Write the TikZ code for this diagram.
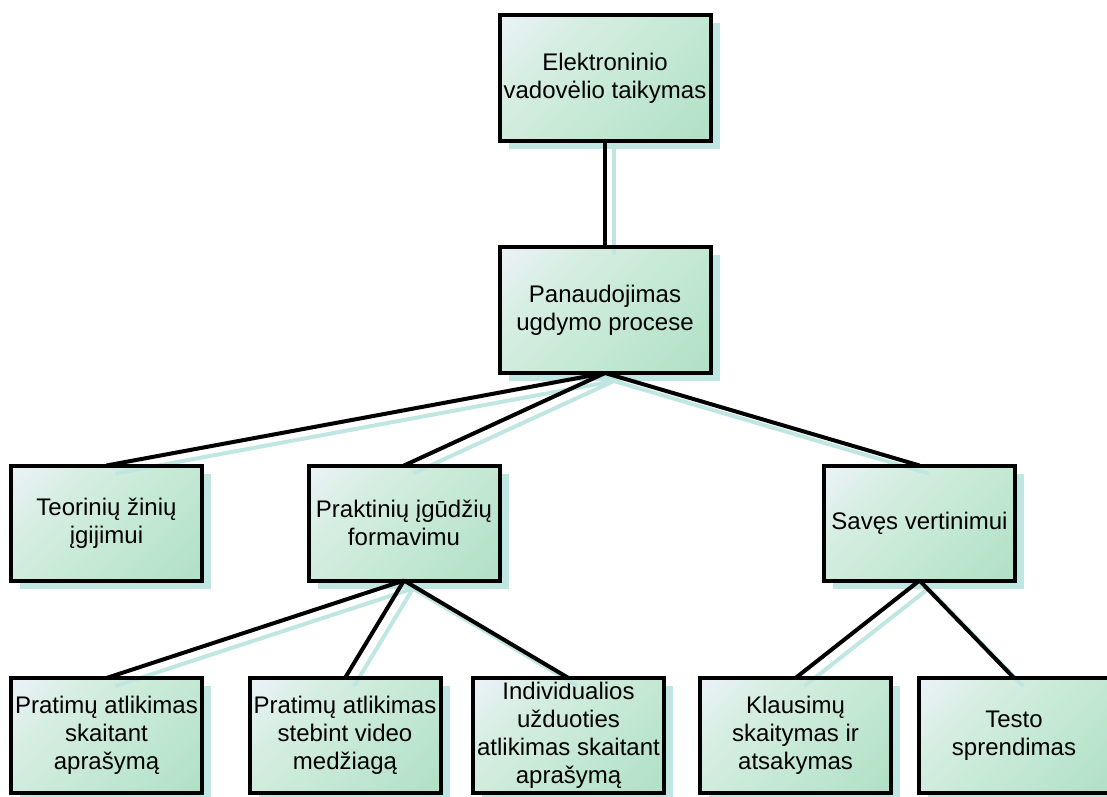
\documentclass[tikz,border=0pt]{standalone}
\usepackage{fontspec}
\setmainfont{Liberation Sans}
\usetikzlibrary{shadows}
\definecolor{boxlight}{RGB}{236,242,248}
\definecolor{boxpale}{RGB}{215,238,227}
\definecolor{boxmid}{RGB}{201,234,215}
\definecolor{boxgreen}{RGB}{178,225,199}
\definecolor{shadowc}{RGB}{192,230,226}
% diagonal box fill: pale corner at the upper left, green towards the lower right
\pgfdeclareverticalshading{boxshade}{100bp}{color(0bp)=(boxgreen); color(18bp)=(boxgreen);
  color(50bp)=(boxmid); color(68bp)=(boxpale); color(85bp)=(boxlight); color(100bp)=(boxlight)}
\begin{document}
\begin{tikzpicture}[x=1pt,y=-1pt,
  box/.style={draw=black, line width=4pt, outer sep=0pt, inner sep=0pt,
    shade, shading=boxshade, shading angle=45, align=center,
    font=\fontsize{24}{28}\selectfont,
    drop shadow={shadow xshift=9pt, shadow yshift=-8pt, fill=shadowc, opacity=1}},
  bigbox/.style={box, minimum width=211pt, minimum height=126pt},
  smallbox/.style={box, minimum width=191pt, minimum height=115pt},
  link/.style={draw=black, line width=4pt},
  linkshadow/.style={draw=shadowc, line width=4pt},
  frame/.style={draw=black, line width=4pt}]
  \useasboundingbox (0,0) rectangle (1107,796);
  \clip (0,0) rectangle (1107,796);

  % boxes
  \node[bigbox] (top) at (605,78) {Elektroninio\\vadovėlio taikymas};
  \node[bigbox] (mid) at (605,310) {Panaudojimas\\ugdymo procese};
  \node[smallbox] (teo) at (106.5,523) {Teorinių žinių\\įgijimui};
  \node[smallbox] (prak) at (404,523) {Praktinių įgūdžių\\formavimu};
  \node[smallbox] (sav) at (919.5,523) {Savęs vertinimui};
  \node[smallbox] (pa) at (106.5,735.5) {Pratimų atlikimas\\skaitant\\aprašymą};
  \node[smallbox] (pb) at (345,735.5) {Pratimų atlikimas\\stebint video\\medžiagą};
  \node[smallbox] (ind) at (568.5,735.5) {Individualios\\užduoties\\atlikimas skaitant\\aprašymą};
  \node[smallbox] (kla) at (795.5,735.5) {Klausimų\\skaitymas ir\\atsakymas};
  \node[smallbox] (tes) at (1014,735.5) {Testo\\sprendimas};

  % connector shadows
  \foreach \a/\b in {top/mid, mid/teo, mid/prak, mid/sav, prak/pa, prak/pb, prak/ind, sav/kla, sav/tes}
    \draw[linkshadow] ([shift={(9,8)}]\a.south) -- ([shift={(9,8)}]\b.north);

  % box outlines over the connector shadows
  \foreach \n in {top, mid, teo, prak, sav, pa, pb, ind, kla, tes}
    \draw[frame] (\n.north west) rectangle (\n.south east);

  % connectors
  \foreach \a/\b in {top/mid, mid/teo, mid/prak, mid/sav, prak/pa, prak/pb, prak/ind, sav/kla, sav/tes}
    \draw[link] (\a.south) -- (\b.north);
\end{tikzpicture}
\end{document}
